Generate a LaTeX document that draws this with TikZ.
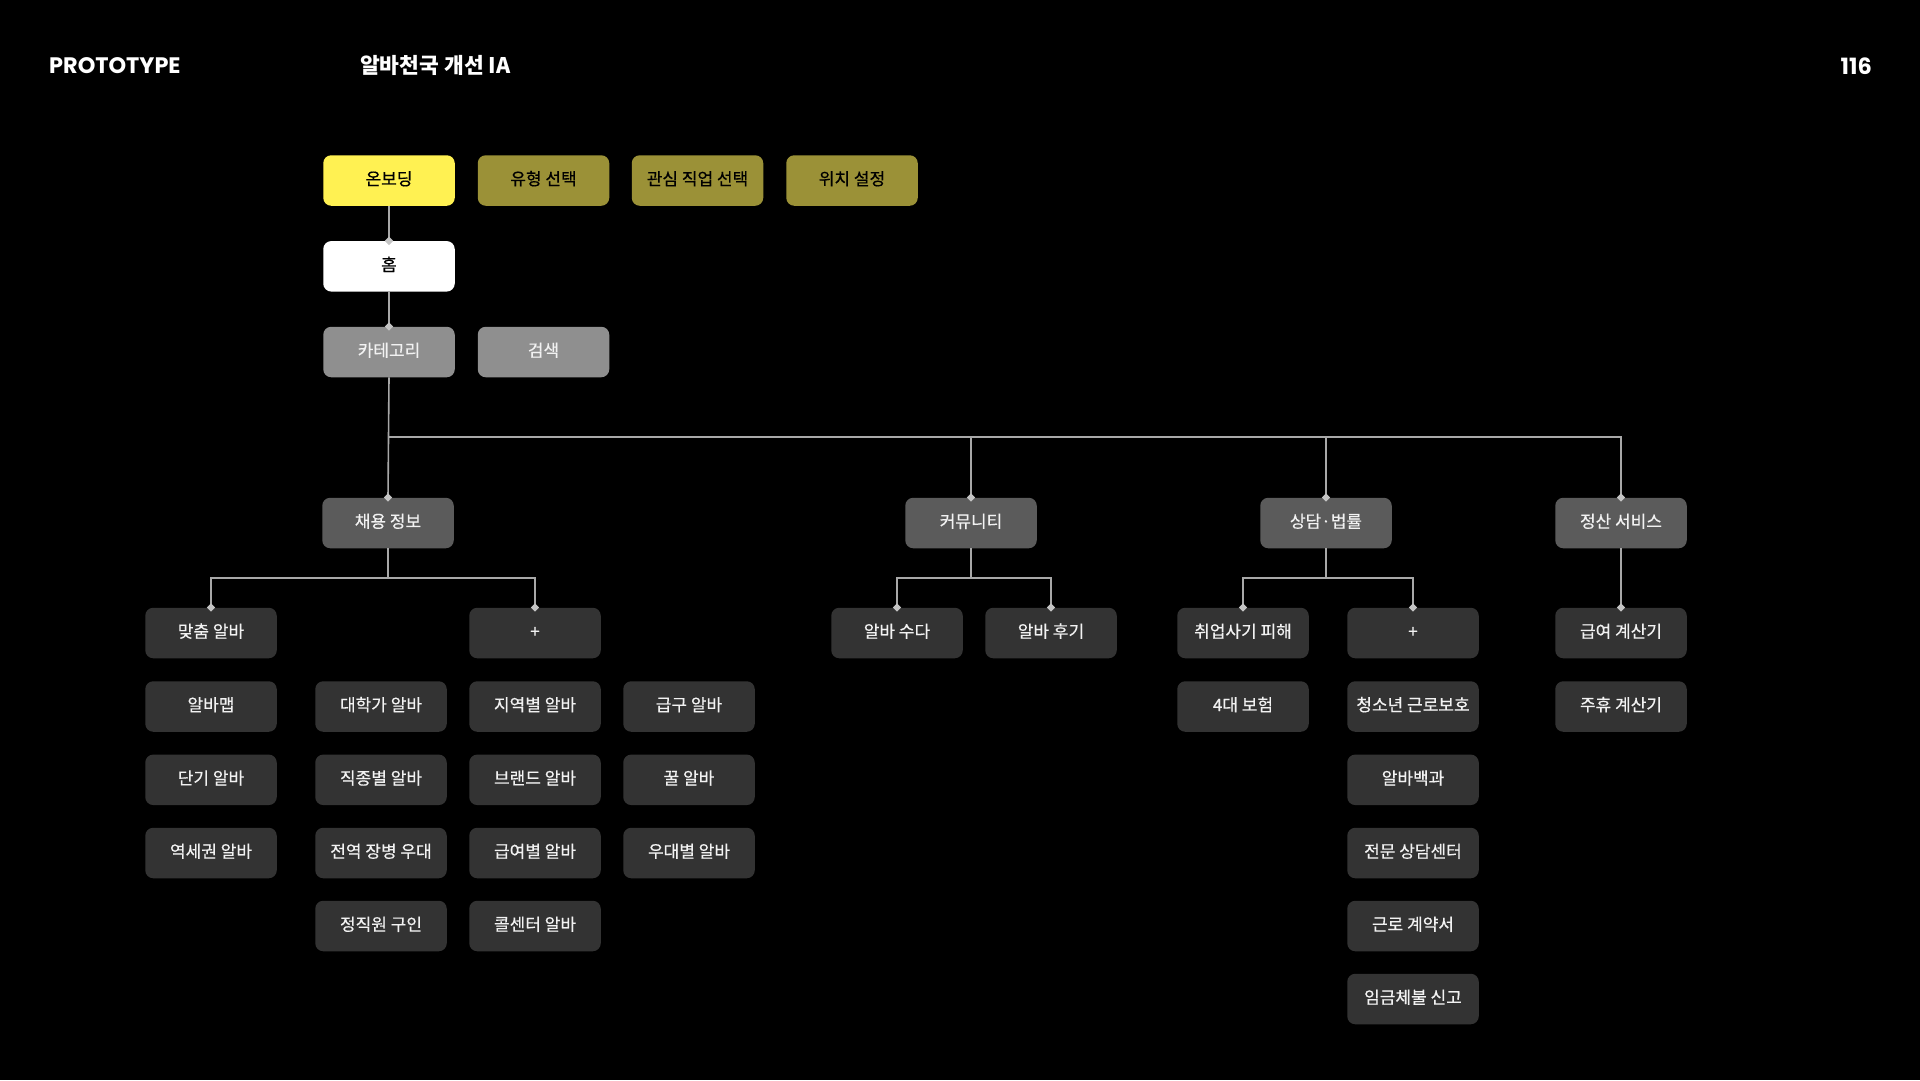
\documentclass[tikz,border=0pt]{standalone}
\usepackage{fontspec}
\usetikzlibrary{shapes.geometric}
\newfontfamily\kr[FakeBold=0.5]{Noto Sans CJK KR}
\newfontfamily\krh{Noto Sans CJK KR}
\newfontfamily\pop{Poppins}
\definecolor{yel}{HTML}{FFF152}
\definecolor{olive}{HTML}{9B9137}
\definecolor{gmid}{HTML}{8F8F8F}
\definecolor{glev}{HTML}{5B5B5B}
\definecolor{gdark}{HTML}{333333}
\definecolor{lcol}{HTML}{A8A8A8}
\definecolor{dcol}{HTML}{C4C4C4}
\definecolor{tw}{HTML}{F2F2F2}
\tikzset{
  box/.style={rectangle, rounded corners=8pt, minimum width=131.5pt, minimum height=50.5pt, inner sep=0pt, text height=13pt, text depth=3.8pt, font=\kr\fontsize{17}{20}\selectfont},
  ybox/.style={box, fill=yel, text=black},
  obox/.style={box, fill=olive, text=black},
  wbox/.style={box, fill=white, text=black},
  mbox/.style={box, fill=gmid, text=tw},
  lbox/.style={box, fill=glev, text=tw},
  dbox/.style={box, fill=gdark, text=tw},
  conn/.style={draw=lcol, line width=1.6pt},
  dia/.style={diamond, fill=dcol, minimum size=8.5pt, inner sep=0pt},
  hdr/.style={text=white, inner sep=0pt}
}
\begin{document}
\begin{tikzpicture}[x=1pt,y=-1pt]
\fill[black] (0,0) rectangle (1920,1080);
\useasboundingbox (0,0) rectangle (1920,1080);

% header
\node[hdr, anchor=west, font=\pop\bfseries\fontsize{22.4}{26}\selectfont] (title) at (49,66) {PROTOTYPE};
\node[hdr, anchor=west, font=\krh\bfseries\fontsize{21.5}{24}\selectfont] (sub) at (360,65.5) {알바천국 개선 IA};
\node[hdr, anchor=east, font=\pop\bfseries\fontsize{22.4}{26}\selectfont] (page) at (1872,66) {116};

% top rows
\node[ybox] (onb) at (389,180.5) {온보딩};
\node[obox] (type) at (543.5,180.5) {유형 선택};
\node[obox] (job) at (697.5,180.5) {관심 직업 선택};
\node[obox] (loc) at (852,180.5) {위치 설정};
\node[wbox] (home) at (389,266.3) {홈};
\node[mbox] (cat) at (389,352) {카테고리};
\node[mbox] (search) at (543.5,352) {검색};

% level 2
\node[lbox] (hire) at (388,523) {채용 정보};
\node[lbox] (comm) at (971,523) {커뮤니티};
\node[lbox] (law) at (1326,523) {상담·법률};
\node[lbox] (pay) at (1621,523) {정산 서비스};

% level 3 - hire
\node[dbox] (a1) at (211,633) {맞춤 알바};
\node[dbox] (a2) at (211,706.5) {알바맵};
\node[dbox] (a3) at (211,779.8) {단기 알바};
\node[dbox] (a4) at (211,853) {역세권 알바};
\node[dbox] (b2) at (381,706.5) {대학가 알바};
\node[dbox] (b3) at (381,779.8) {직종별 알바};
\node[dbox] (b4) at (381,853) {전역 장병 우대};
\node[dbox] (b5) at (381,926) {정직원 구인};
\node[dbox] (c1) at (535,633) {+};
\node[dbox] (c2) at (535,706.5) {지역별 알바};
\node[dbox] (c3) at (535,779.8) {브랜드 알바};
\node[dbox] (c4) at (535,853) {급여별 알바};
\node[dbox] (c5) at (535,926) {콜센터 알바};
\node[dbox] (e2) at (689,706.5) {급구 알바};
\node[dbox] (e3) at (689,779.8) {꿀 알바};
\node[dbox] (e4) at (689,853) {우대별 알바};

% level 3 - community
\node[dbox] (m1) at (897,633) {알바 수다};
\node[dbox] (m2) at (1051,633) {알바 후기};

% level 3 - law
\node[dbox] (l1) at (1243,633) {취업사기 피해};
\node[dbox] (l2) at (1243,706.5) {4대 보험};
\node[dbox] (p1) at (1413,633) {+};
\node[dbox] (p2) at (1413,706.5) {청소년 근로보호};
\node[dbox] (p3) at (1413,779.8) {알바백과};
\node[dbox] (p4) at (1413,853) {전문 상담센터};
\node[dbox] (p5) at (1413,926) {근로 계약서};
\node[dbox] (p6) at (1413,999) {임금체불 신고};

% level 3 - pay
\node[dbox] (s1) at (1621,633) {급여 계산기};
\node[dbox] (s2) at (1621,706.5) {주휴 계산기};

% coordinates
\coordinate (bus) at (0,437);
\coordinate (jb) at (388,578);
\coordinate (cb) at (971,578);
\coordinate (lb) at (1326,578);

% connectors
\draw[conn] (onb.south) -- (home.north);
\draw[conn] (home.south) -- (cat.north);
\draw[conn] (cat.south) -- (hire.north);
\draw[conn] (hire.north |- bus) -| (pay.north);
\draw[conn] (comm.north |- bus) -- (comm.north);
\draw[conn] (law.north |- bus) -- (law.north);
\draw[conn] (hire.south) -- (jb);
\draw[conn] (a1.north) |- (jb) -| (c1.north);
\draw[conn] (comm.south) -- (cb);
\draw[conn] (m1.north) |- (cb) -| (m2.north);
\draw[conn] (law.south) -- (lb);
\draw[conn] (l1.north) |- (lb) -| (p1.north);
\draw[conn] (pay.south) -- (s1.north);

% diamonds
\node[dia] (d1) at (home.north) {};
\node[dia] (d2) at (cat.north) {};
\node[dia] (d3) at (hire.north) {};
\node[dia] (d4) at (comm.north) {};
\node[dia] (d5) at (law.north) {};
\node[dia] (d6) at (pay.north) {};
\node[dia] (d7) at (a1.north) {};
\node[dia] (d8) at (c1.north) {};
\node[dia] (d9) at (m1.north) {};
\node[dia] (d10) at (m2.north) {};
\node[dia] (d11) at (l1.north) {};
\node[dia] (d12) at (p1.north) {};
\node[dia] (d13) at (s1.north) {};
\end{tikzpicture}
\end{document}
